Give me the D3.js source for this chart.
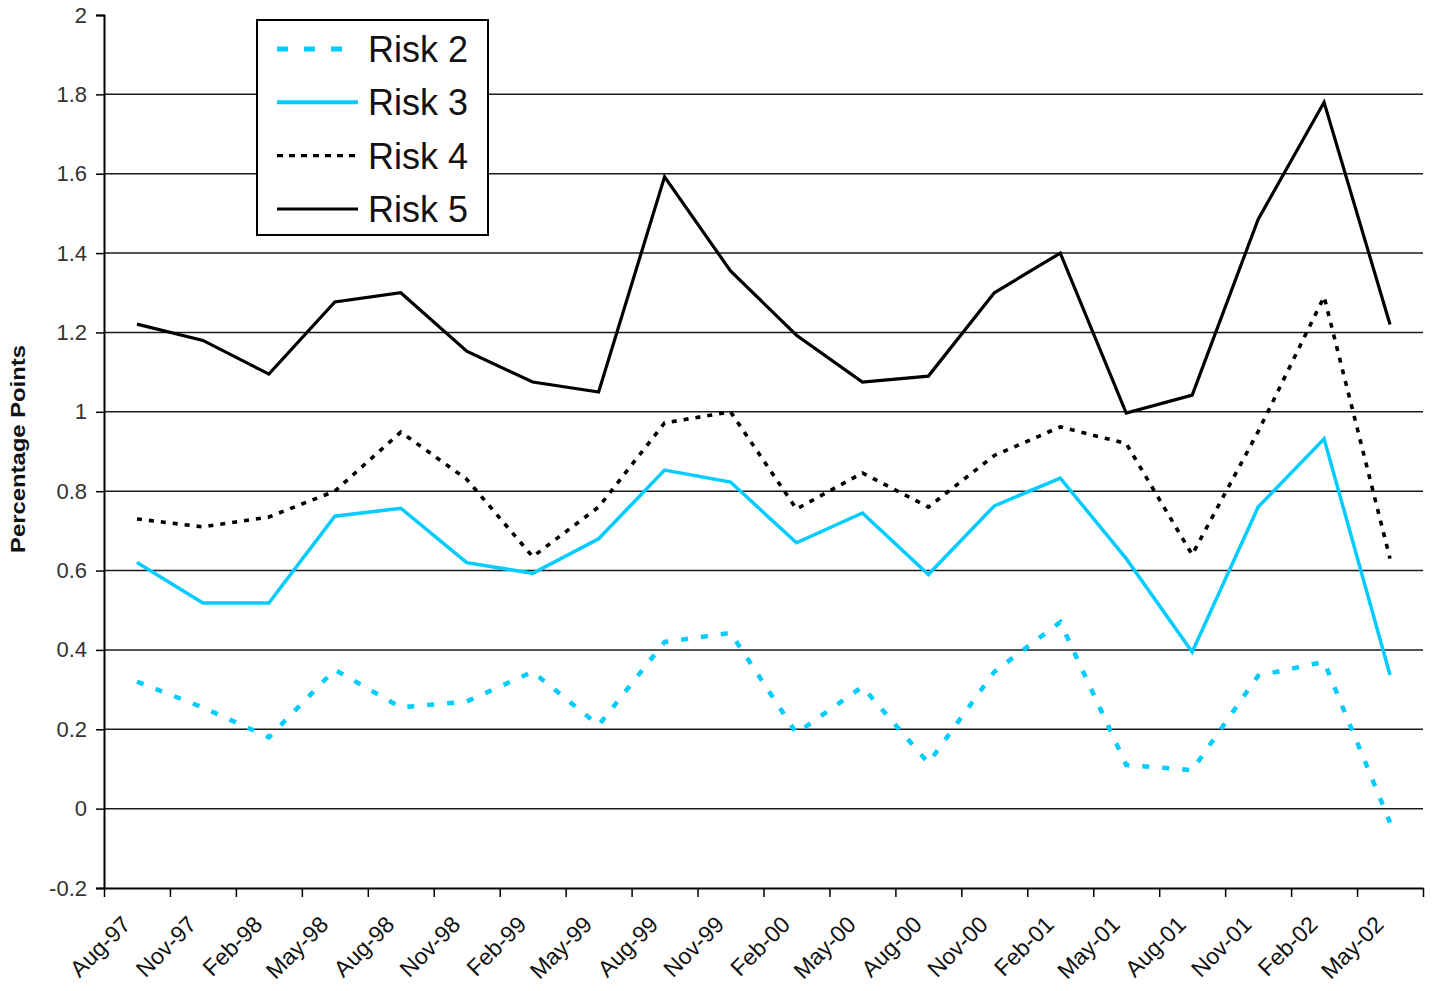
<!DOCTYPE html>
<html>
<head>
<meta charset="utf-8">
<script src="https://cdn.jsdelivr.net/npm/d3@7"></script>
<style>
  html, body { margin: 0; padding: 0; background: #fff; }
  svg { display: block; font-family: "Liberation Sans", Arial, sans-serif; }
</style>
</head>
<body>
<svg id="chart" width="1437" height="991"></svg>
<script>
// Quarterly periods
const categories = ["Aug-97","Nov-97","Feb-98","May-98","Aug-98","Nov-98","Feb-99","May-99",
  "Aug-99","Nov-99","Feb-00","May-00","Aug-00","Nov-00","Feb-01","May-01",
  "Aug-01","Nov-01","Feb-02","May-02"];

// Spread by risk rating, percentage points
const risk2 = [0.32,0.255,0.18,0.35,0.255,0.27,0.345,0.21,0.42,0.443,0.19,0.307,0.115,0.345,0.47,0.11,0.097,0.335,0.37,-0.035];
const risk3 = [0.62,0.518,0.518,0.737,0.757,0.62,0.593,0.68,0.853,0.823,0.67,0.745,0.59,0.763,0.833,0.63,0.395,0.76,0.932,0.337];
const risk4 = [0.73,0.71,0.735,0.80,0.949,0.83,0.635,0.76,0.972,1.0,0.755,0.846,0.76,0.89,0.962,0.92,0.64,0.95,1.29,0.63];
const risk5 = [1.221,1.18,1.095,1.277,1.30,1.153,1.075,1.05,1.592,1.355,1.193,1.075,1.09,1.30,1.40,0.997,1.042,1.485,1.78,1.22];

const yTicks = [-0.2,0,0.2,0.4,0.6,0.8,1,1.2,1.4,1.6,1.8,2];
const yTitle = "Percentage Points";

const seriesNames = ["Risk 2","Risk 3","Risk 4","Risk 5"];

const CYAN = "#00ccff";
const styles = {
  "Risk 2": { color: CYAN, width: 4.5, dash: "7,13", legendDash: "11,16", legendWidth: 5 },
  "Risk 3": { color: CYAN, width: 3.5, dash: null, legendDash: null, legendWidth: 4 },
  "Risk 4": { color: "#000", width: 3.6, dash: "5,7", legendDash: "6,6", legendWidth: 3.2 },
  "Risk 5": { color: "#000", width: 3.2, dash: null, legendDash: null, legendWidth: 3 }
};
const seriesData = { "Risk 2": risk2, "Risk 3": risk3, "Risk 4": risk4, "Risk 5": risk5 };

const svg = d3.select("#chart");
const plotLeft = 104, plotRight = 1423, plotTop = 15, plotBottom = 888;

const x = d3.scaleBand().domain(categories).range([plotLeft, plotRight]).paddingInner(0).paddingOuter(0);
const xEdges = d3.scaleLinear().domain([0, categories.length]).range([plotLeft, plotRight]);
const y = d3.scaleLinear().domain([-0.2, 2]).range([plotBottom, plotTop]);

// Horizontal gridlines (none at the top value or on the baseline)
svg.append("g")
  .selectAll("line")
  .data(yTicks.filter(v => v > -0.2 && v < 2))
  .join("line")
  .attr("x1", plotLeft).attr("x2", plotRight)
  .attr("y1", d => y(d)).attr("y2", d => y(d))
  .attr("stroke", "#1a1a1a").attr("stroke-width", 1.5);

// Y axis
const yAxis = svg.append("g")
  .attr("transform", `translate(${plotLeft},0)`)
  .call(d3.axisLeft(y).tickValues(yTicks).tickSize(8).tickPadding(9)
    .tickFormat(d => String(+d.toFixed(1))));
yAxis.select(".domain").attr("stroke", "#000").attr("stroke-width", 2);
yAxis.selectAll(".tick line").attr("stroke", "#000").attr("stroke-width", 1.5);
yAxis.selectAll(".tick text")
  .attr("font-size", 22).attr("fill", "#333")
  .attr("font-family", "'Liberation Sans', Arial, sans-serif");

// X axis with ticks on category boundaries
const xAxis = svg.append("g")
  .attr("transform", `translate(0,${plotBottom})`)
  .call(d3.axisBottom(xEdges).tickValues(d3.range(categories.length + 1)).tickSize(9).tickSizeOuter(0).tickFormat(""));
xAxis.select(".domain").attr("stroke", "#000").attr("stroke-width", 2);
xAxis.selectAll(".tick line").attr("stroke", "#000").attr("stroke-width", 1.5);

// Rotated category labels
svg.append("g")
  .selectAll("text")
  .data(categories)
  .join("text")
  .attr("transform", d => `translate(${x(d) + x.bandwidth() / 2 - 5},${plotBottom + 38}) rotate(-45)`)
  .attr("text-anchor", "end")
  .attr("font-size", 23)
  .attr("fill", "#111")
  .text(d => d);

// Y axis title
svg.append("text")
  .attr("transform", `translate(25,${(345 + 553) / 2}) rotate(-90)`)
  .attr("text-anchor", "middle")
  .attr("font-size", 20)
  .attr("font-weight", "bold")
  .attr("fill", "#111")
  .attr("textLength", 208)
  .attr("lengthAdjust", "spacingAndGlyphs")
  .text(yTitle);

// Series lines
const line = d3.line()
  .x((d, i) => x(categories[i]) + x.bandwidth() / 2)
  .y(d => y(d));

svg.append("g")
  .selectAll("path")
  .data(seriesNames)
  .join("path")
  .attr("d", n => line(seriesData[n]))
  .attr("fill", "none")
  .attr("stroke", n => styles[n].color)
  .attr("stroke-width", n => styles[n].width)
  .attr("stroke-dasharray", n => styles[n].dash)
  .attr("stroke-linejoin", "miter")
  .attr("stroke-linecap", "butt");

// Legend
const legend = svg.append("g");
legend.append("rect")
  .attr("x", 257).attr("y", 20).attr("width", 231).attr("height", 215)
  .attr("fill", "#fff").attr("stroke", "#000").attr("stroke-width", 2);

const rowY = d3.scalePoint().domain(seriesNames).range([49, 209]);
const rows = legend.selectAll("g.row").data(seriesNames).join("g").attr("class", "row");
rows.append("line")
  .attr("x1", 277).attr("x2", 358)
  .attr("y1", n => rowY(n)).attr("y2", n => rowY(n))
  .attr("stroke", n => styles[n].color)
  .attr("stroke-width", n => styles[n].legendWidth)
  .attr("stroke-dasharray", n => styles[n].legendDash);
rows.append("text")
  .attr("x", 368)
  .attr("y", n => rowY(n) + 13)
  .attr("font-size", 36)
  .attr("fill", "#111")
  .text(n => n);
</script>
</body>
</html>
